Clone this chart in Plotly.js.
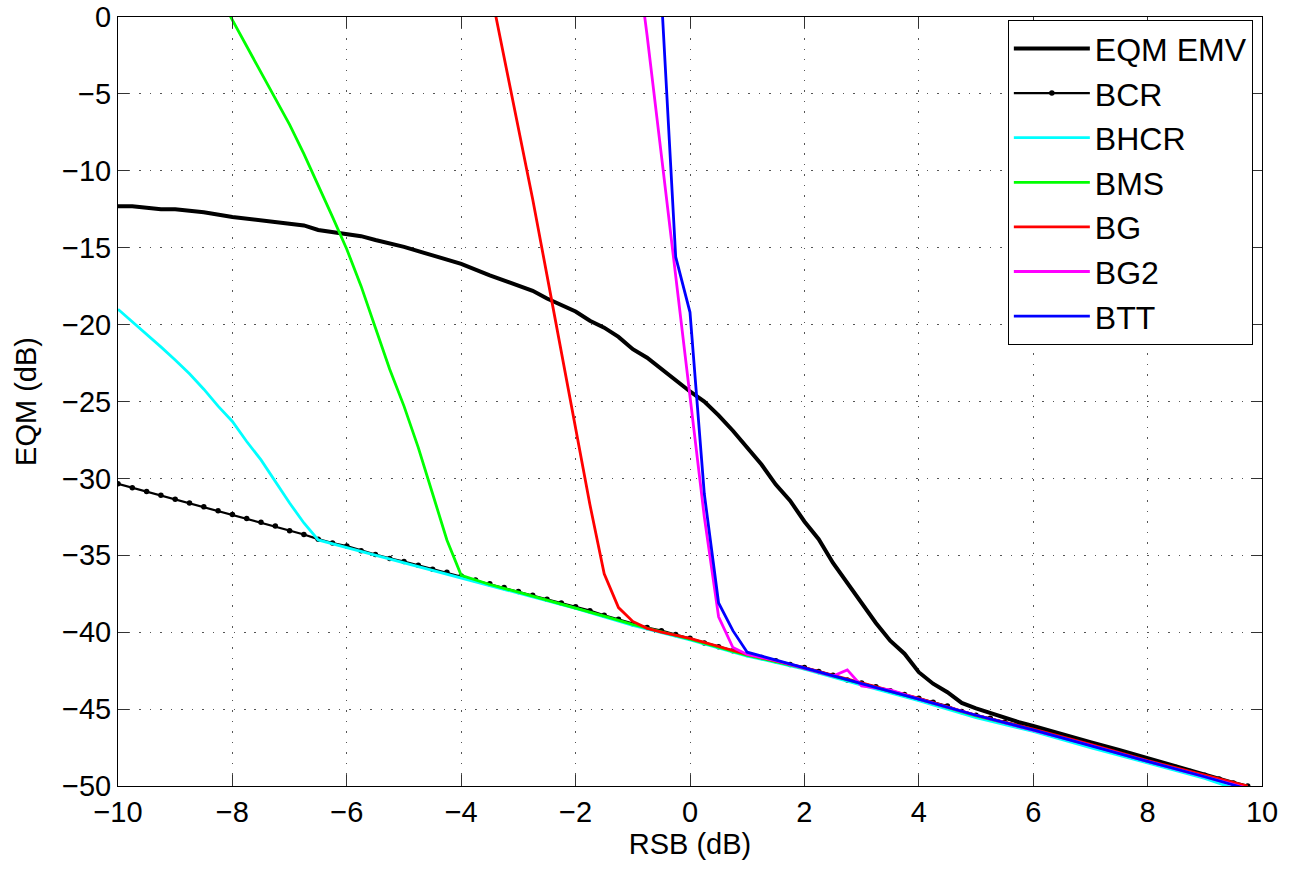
<!DOCTYPE html>
<html>
<head>
<meta charset="utf-8">
<script src="https://cdn.plot.ly/plotly-3.0.1.min.js"></script>
<style>html,body{margin:0;padding:0;background:#fff;}#chart{width:1306px;height:870px;}</style>
</head>
<body>
<div id="chart"></div>
<script>
// EQM EMV
const emvX = [-10,-9.75,-9.5,-9.25,-9,-8.5,-8,-7.5,-7,-6.75,-6.5,-6.25,-6,-5.75,-5.5,-5,-4.5,-4.25,-4,-3.5,-3.25,-3,-2.75,-2.5,-2.25,-2,-1.75,-1.5,-1.25,-1,-0.75,-0.5,-0.25,0,0.25,0.5,0.75,1,1.25,1.5,1.75,2,2.25,2.5,2.75,3,3.25,3.5,3.75,4,4.25,4.5,4.75,5,5.25,5.5,5.75,6,6.5,7,7.5,8,8.5,9,9.5,9.75];
const emvY = [-12.3,-12.3,-12.4,-12.5,-12.5,-12.7,-13.0,-13.2,-13.4,-13.55,-13.85,-14.0,-14.1,-14.25,-14.5,-14.95,-15.5,-15.8,-16.05,-16.8,-17.15,-17.45,-17.8,-18.3,-18.75,-19.15,-19.75,-20.2,-20.8,-21.6,-22.15,-22.9,-23.65,-24.35,-25.0,-25.9,-26.9,-28.0,-29.1,-30.4,-31.45,-32.8,-33.95,-35.5,-36.8,-38.1,-39.4,-40.55,-41.4,-42.6,-43.35,-43.9,-44.6,-44.95,-45.25,-45.6,-45.85,-46.1,-46.65,-47.15,-47.65,-48.2,-48.7,-49.3,-49.8,-50.05];

// BCR
const bcrX = [-10,-9.75,-9.5,-9.25,-9,-8.75,-8.5,-8.25,-8,-7.75,-7.5,-7.25,-7,-6.75,-6.5,-6.25,-6,-5.75,-5.5,-5.25,-5,-4.75,-4.5,-4.25,-4,-3.75,-3.5,-3.25,-3,-2.75,-2.5,-2.25,-2,-1.75,-1.5,-1.25,-1,-0.75,-0.5,-0.25,0,0.25,0.5,0.75,1,1.25,1.5,1.75,2,2.25,2.5,2.75,3,3.25,3.5,3.75,4,4.25,4.5,4.75,5,5.25,5.5,5.75,6,6.25,6.5,6.75,7,7.25,7.5,7.75,8,8.25,8.5,8.75,9,9.25,9.5,9.75];
const bcrY = [-30.35,-30.6,-30.85,-31.1,-31.35,-31.6,-31.85,-32.1,-32.35,-32.6,-32.85,-33.1,-33.4,-33.65,-33.95,-34.2,-34.4,-34.7,-34.95,-35.2,-35.4,-35.65,-35.9,-36.1,-36.35,-36.6,-36.85,-37.1,-37.35,-37.6,-37.85,-38.1,-38.35,-38.6,-38.9,-39.15,-39.45,-39.7,-39.9,-40.15,-40.4,-40.7,-40.95,-41.2,-41.45,-41.65,-41.85,-42.1,-42.3,-42.55,-42.8,-43.1,-43.3,-43.55,-43.8,-44.05,-44.3,-44.55,-44.8,-45.15,-45.4,-45.6,-45.85,-46.05,-46.3,-46.55,-46.8,-47.05,-47.3,-47.55,-47.8,-48.1,-48.35,-48.55,-48.8,-49.05,-49.3,-49.55,-49.8,-50.0];

// BHCR
const bhcrX = [-10,-9.75,-9.5,-9.25,-9,-8.75,-8.5,-8.25,-8,-7.75,-7.5,-7.25,-7,-6.75,-6.5,-6,-5,-4,-3,-2,-1,0,1,2,3,4,5,6,7,8,9,9.5,9.75];
const bhcrY = [-19.0,-19.8,-20.6,-21.45,-22.3,-23.2,-24.2,-25.3,-26.3,-27.6,-28.8,-30.2,-31.6,-32.9,-34.0,-34.5,-35.5,-36.45,-37.45,-38.45,-39.55,-40.5,-41.55,-42.4,-43.45,-44.45,-45.55,-46.45,-47.5,-48.5,-49.5,-50.15,-50.4];

// BMS
const bmsX = [-8.25,-8,-7.75,-7.5,-7.25,-7,-6.75,-6.5,-6.25,-6,-5.75,-5.5,-5.25,-5,-4.75,-4.5,-4.25,-4,-3.5,-3,-2.5,-2,-1.5,-1,0,1,2,3,4,5,6,7,8,9,9.75];
const bmsY = [1.5,-0.2,-1.9,-3.6,-5.3,-7.0,-8.9,-10.9,-13.0,-15.1,-17.5,-20.2,-22.9,-25.3,-28.0,-31.0,-34.0,-36.3,-36.9,-37.4,-37.9,-38.4,-38.95,-39.5,-40.45,-41.5,-42.35,-43.35,-44.35,-45.45,-46.35,-47.35,-48.4,-49.35,-50.05];

// BG
const bgX = [-3.5,-3.25,-3,-2.75,-2.5,-2.25,-2,-1.75,-1.5,-1.25,-1,-0.75,-0.5,0,1,2,3,4,5,6,7,8,9,9.75];
const bgY = [2.0,-2.6,-7.2,-11.85,-16.8,-21.7,-26.7,-31.7,-36.2,-38.4,-39.3,-39.75,-40.0,-40.4,-41.45,-42.3,-43.3,-44.3,-45.4,-46.3,-47.3,-48.35,-49.3,-50.0];

// BG2
const bg2X = [-1,-0.75,-0.5,-0.25,0,0.25,0.5,0.75,1,1.5,2,2.5,2.75,3,3.5,4,5,6,7,8,9,9.75];
const bg2Y = [6.0,-1.2,-9.0,-16.8,-25.0,-32.5,-39.0,-41.0,-41.45,-41.85,-42.35,-42.85,-42.45,-43.5,-43.75,-44.35,-45.4,-46.35,-47.35,-48.4,-49.4,-50.15];

// BTT
const bttX = [-0.5,-0.25,0,0.25,0.5,0.75,1,2,3,4,5,6,7,8,9,9.75];
const bttY = [1.4,-15.6,-19.2,-31.0,-38.1,-39.9,-41.3,-42.35,-43.35,-44.35,-45.4,-46.35,-47.4,-48.4,-49.4,-50.2];

const xTicks = [-10,-8,-6,-4,-2,0,2,4,6,8,10];
const yTicks = [-50,-45,-40,-35,-30,-25,-20,-15,-10,-5,0];

const FONT = 'Liberation Sans, Arial, Helvetica, sans-serif';

const traces = [
  {x: emvX, y: emvY, name: 'EQM EMV', mode: 'lines', line: {color: '#000000', width: 4}},
  {x: bcrX, y: bcrY, name: 'BCR', mode: 'lines+markers', line: {color: '#000000', width: 2.2}, marker: {color: '#000000', size: 5.5}},
  {x: bhcrX, y: bhcrY, name: 'BHCR', mode: 'lines', line: {color: '#00ffff', width: 2.8}},
  {x: bmsX, y: bmsY, name: 'BMS', mode: 'lines', line: {color: '#00ff00', width: 2.8}},
  {x: bgX, y: bgY, name: 'BG', mode: 'lines', line: {color: '#ff0000', width: 2.8}},
  {x: bg2X, y: bg2Y, name: 'BG2', mode: 'lines', line: {color: '#ff00ff', width: 2.8}},
  {x: bttX, y: bttY, name: 'BTT', mode: 'lines', line: {color: '#0000ff', width: 2.8}}
];

const axisCommon = {
  showline: true, linecolor: '#000', linewidth: 1, mirror: 'allticks',
  ticks: 'inside', ticklen: 11, tickwidth: 1, tickcolor: '#333',
  showgrid: true, gridcolor: '#555', gridwidth: 1, griddash: '1.5px,9px',
  zeroline: false, tickfont: {family: FONT, size: 29, color: '#000'},
  tickmode: 'array', ticklabeloverflow: 'allow'
};

const layout = {
  width: 1306, height: 870,
  margin: {l: 118, r: 44, t: 17, b: 84},
  paper_bgcolor: '#fff', plot_bgcolor: '#fff',
  font: {family: FONT, color: '#000'},
  xaxis: Object.assign({}, axisCommon, {
    range: [-10, 10], tickvals: xTicks, ticktext: xTicks.map(v => v < 0 ? '\u2212' + Math.abs(v) : String(v)),
    ticklabelstandoff: 0,
    title: {text: 'RSB (dB)', font: {family: FONT, size: 29, color: '#000'}, standoff: 6}
  }),
  yaxis: Object.assign({}, axisCommon, {
    range: [-50, 0], tickvals: yTicks, ticktext: yTicks.map(v => v < 0 ? '\u2212' + Math.abs(v) : String(v)),
    ticklabelstandoff: 0,
    title: {text: 'EQM (dB)', font: {family: FONT, size: 29, color: '#000'}, standoff: 16}
  }),
  showlegend: true,
  legend: {
    x: 0.992, y: 0.7845, xanchor: 'right', yanchor: 'middle',
    bgcolor: '#fff', bordercolor: '#000', borderwidth: 1,
    font: {family: FONT, size: 32, color: '#000'},
    itemwidth: 76, tracegroupgap: 0
  }
};

Plotly.newPlot('chart', traces, layout, {displayModeBar: false, staticPlot: true});
</script>
</body>
</html>
